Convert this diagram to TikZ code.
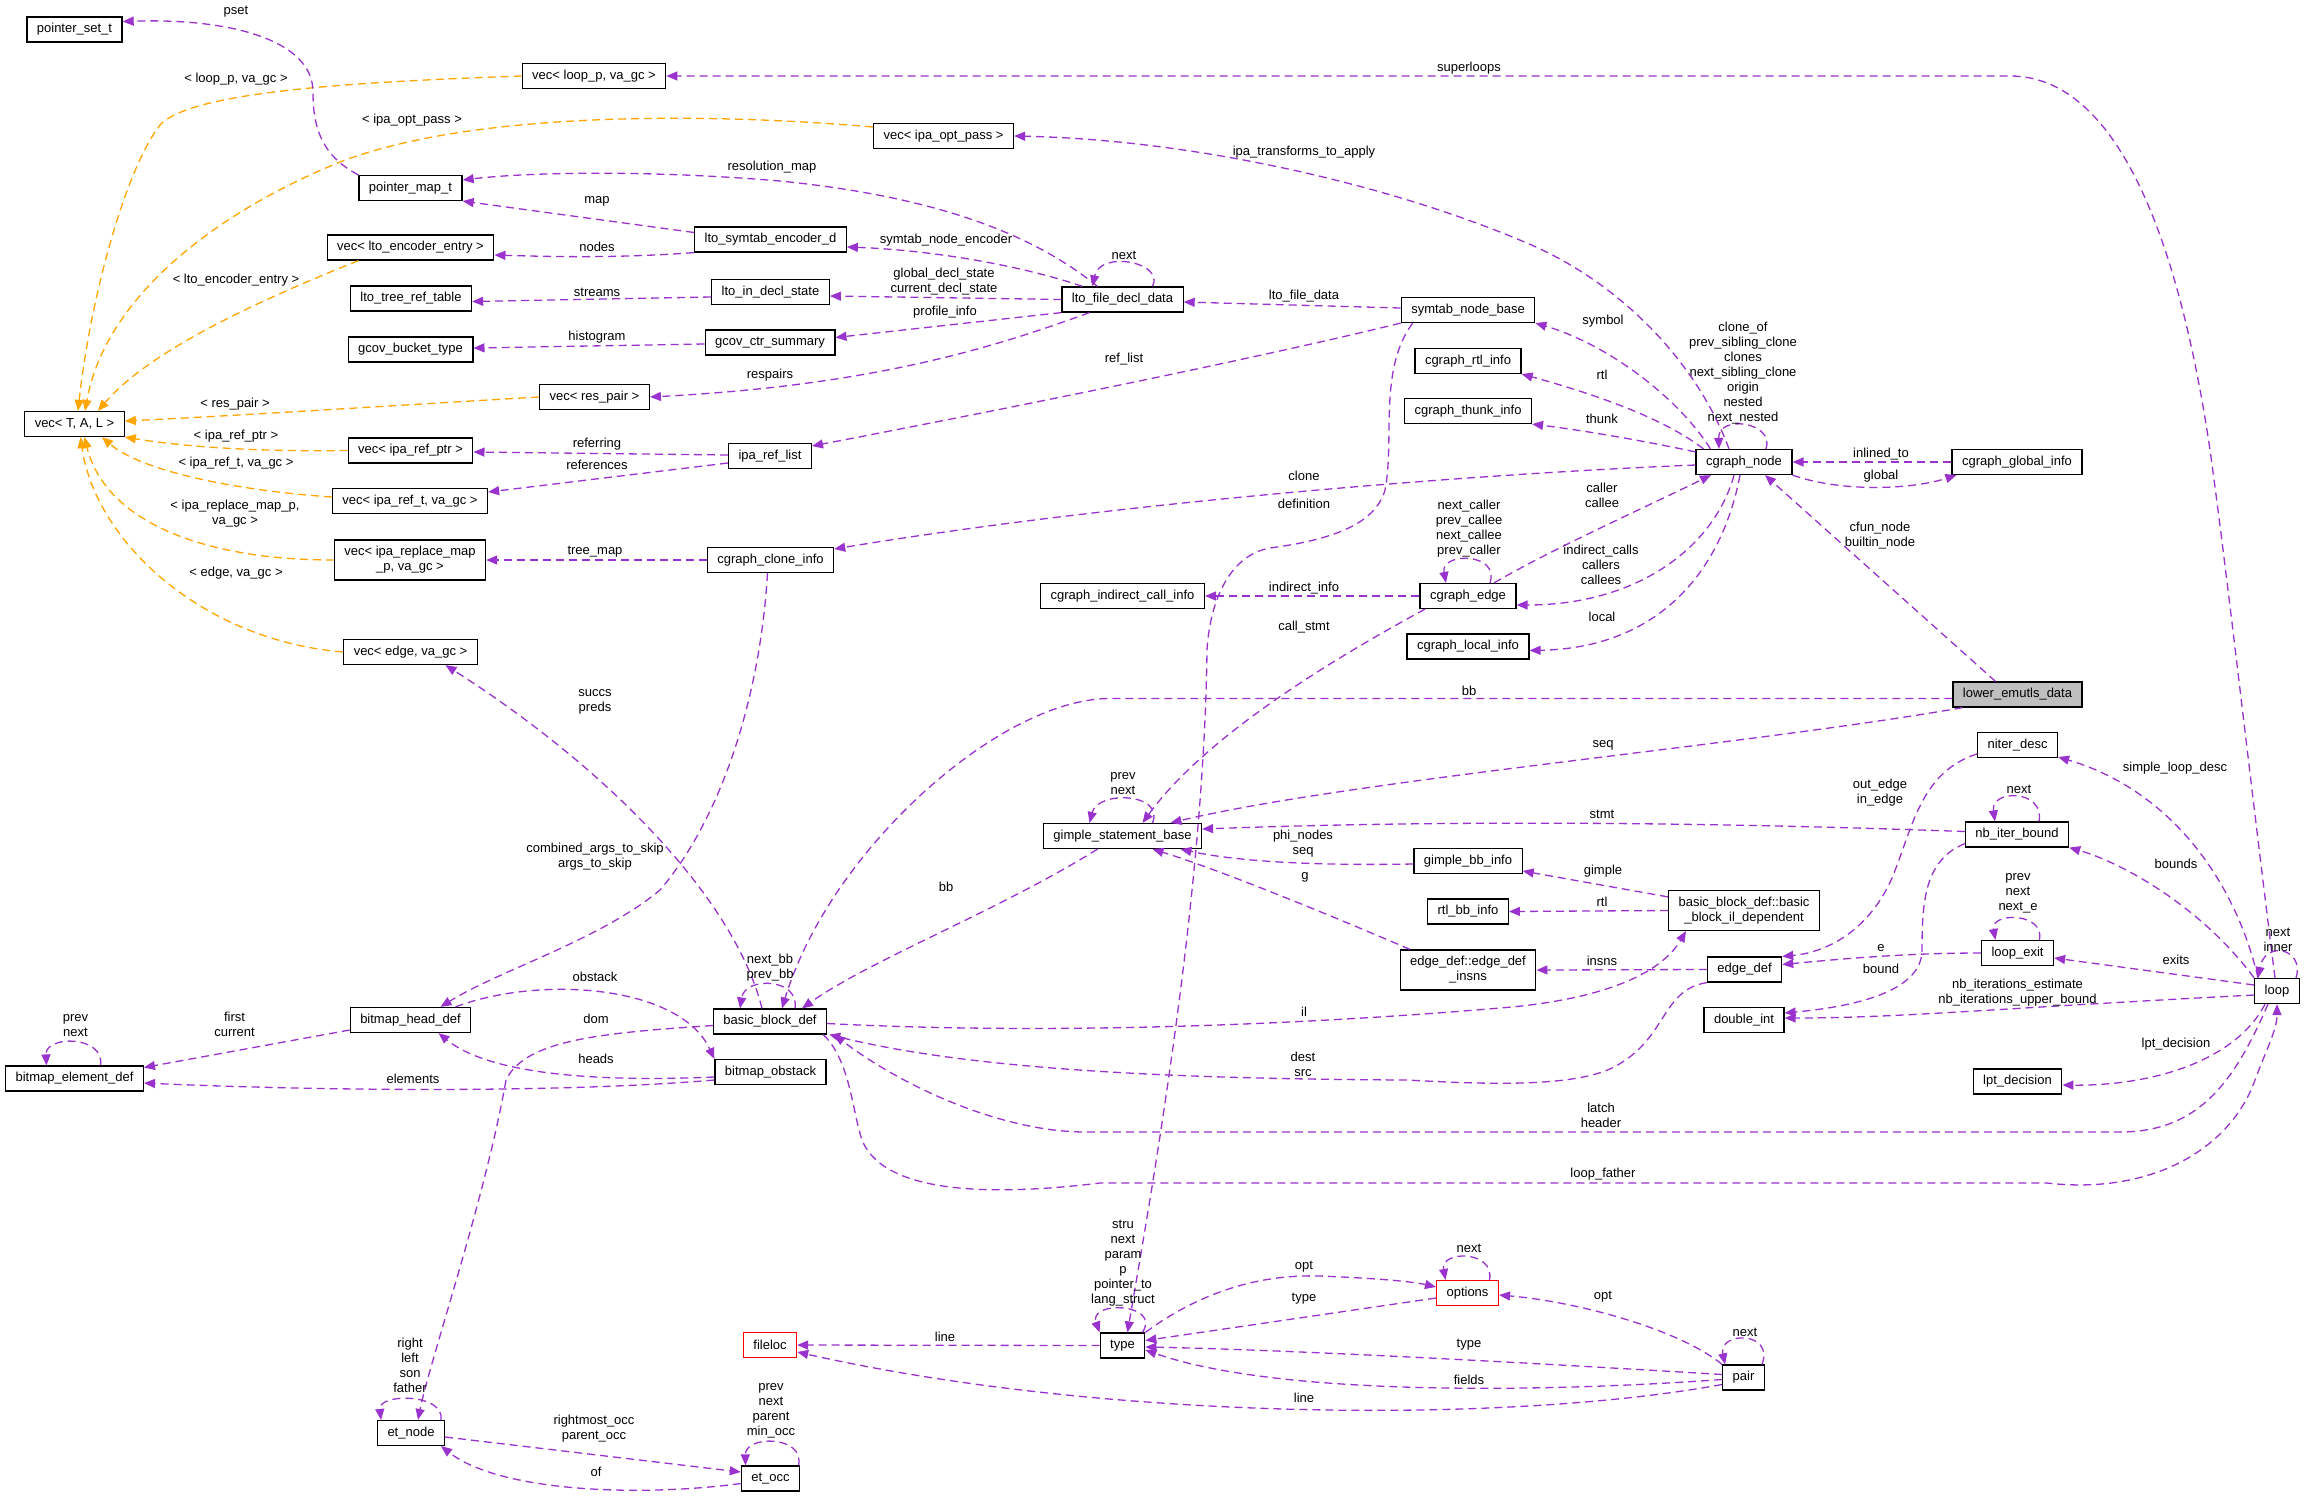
\documentclass[tikz,border=0pt]{standalone}
\usepackage{fontspec}
\setmainfont{Liberation Sans}
\usepackage{tikz}
\usetikzlibrary{arrows.meta}
\definecolor{edgepurple}{HTML}{9A32CD}
\definecolor{edgeorange}{HTML}{FFA500}
\definecolor{focusgray}{HTML}{BFBFBF}

\begin{document}
\begin{tikzpicture}[
    x=1pt,y=-1pt,
    cls/.style={draw=black,line width=1.2pt,fill=white,minimum height=25pt,inner xsep=10pt,inner ysep=2pt,align=center,font=\fontsize{13}{15}\selectfont},
    twoline/.style={cls,minimum height=40pt},
    redcls/.style={cls,draw=red},
    mem/.style={draw=edgepurple,line width=1.3pt,dash pattern=on 8pt off 5pt,->},
    tpl/.style={mem,draw=edgeorange},
    lbl/.style={font=\fontsize{13}{15}\selectfont,align=center,inner sep=0pt},
    >={Triangle[length=11pt,width=9pt]},
]
    \useasboundingbox (0,0) rectangle (2307,1497);

    \node[cls] (pset) at (74.5,29.5) {pointer\_set\_t};
    \node[cls] (vecloop) at (594,76) {vec< loop\_p, va\_gc >};
    \node[cls] (vecipa) at (943.5,136) {vec< ipa\_opt\_pass >};
    \node[cls] (pmap) at (410.5,188) {pointer\_map\_t};
    \node[cls] (lsed) at (770.5,239.5) {lto\_symtab\_encoder\_d};
    \node[cls] (vecenc) at (410.5,247.5) {vec< lto\_encoder\_entry >};
    \node[cls] (ltrt) at (411,298.5) {lto\_tree\_ref\_table};
    \node[cls] (lids) at (770.5,292) {lto\_in\_decl\_state};
    \node[cls] (lfdd) at (1122.5,299.5) {lto\_file\_decl\_data};
    \node[cls] (snb) at (1468,310) {symtab\_node\_base};
    \node[cls] (gbt) at (410.5,349.5) {gcov\_bucket\_type};
    \node[cls] (gcs) at (770,342.5) {gcov\_ctr\_summary};
    \node[cls] (crtl) at (1468,361) {cgraph\_rtl\_info};
    \node[cls] (vecres) at (594.5,397) {vec< res\_pair >};
    \node[cls] (cthk) at (1468,411) {cgraph\_thunk\_info};
    \node[cls] (vectal) at (74.5,424) {vec< T, A, L >};
    \node[cls] (vecrptr) at (410.5,450.5) {vec< ipa\_ref\_ptr >};
    \node[cls] (irl) at (770,456) {ipa\_ref\_list};
    \node[cls] (cgn) at (1744,462) {cgraph\_node};
    \node[cls] (cgi) at (2017,462) {cgraph\_global\_info};
    \node[cls] (vecrt) at (410,501) {vec< ipa\_ref\_t, va\_gc >};
    \node[twoline] (vecrmap) at (410,560) {vec< ipa\_replace\_map\\\_p, va\_gc >};
    \node[cls] (cci) at (770.5,560) {cgraph\_clone\_info};
    \node[cls] (cici) at (1122.5,596) {cgraph\_indirect\_call\_info};
    \node[cls] (cge) at (1468,596) {cgraph\_edge};
    \node[cls] (cli) at (1468,646.5) {cgraph\_local\_info};
    \node[cls] (vecedge) at (410.5,652) {vec< edge, va\_gc >};
    \node[cls,fill=focusgray] (led) at (2017.5,694.5) {lower\_emutls\_data};
    \node[cls] (nd) at (2017.5,745) {niter\_desc};
    \node[cls] (gsb) at (1122.5,836) {gimple\_statement\_base};
    \node[cls] (nib) at (2017,834.5) {nb\_iter\_bound};
    \node[cls] (gbi) at (1468,861) {gimple\_bb\_info};
    \node[twoline] (bbil) at (1744,910.5) {basic\_block\_def::basic\\\_block\_il\_dependent};
    \node[cls] (rbi) at (1468,911.5) {rtl\_bb\_info};
    \node[twoline] (edi) at (1468,970) {edge\_def::edge\_def\\\_insns};
    \node[cls] (lexit) at (2017.5,953) {loop\_exit};
    \node[cls] (edef) at (1744.5,969.5) {edge\_def};
    \node[cls] (loop) at (2277,991) {loop};
    \node[cls] (bhd) at (410.5,1020) {bitmap\_head\_def};
    \node[cls] (bbd) at (770,1021.5) {basic\_block\_def};
    \node[cls] (dint) at (1744,1020) {double\_int};
    \node[cls] (bed) at (74.5,1078.5) {bitmap\_element\_def};
    \node[cls] (bobs) at (770.5,1072) {bitmap\_obstack};
    \node[cls] (lptd) at (2017.5,1081.5) {lpt\_decision};
    \node[redcls] (opts) at (1467.5,1293) {options};
    \node[redcls] (floc) at (770,1345) {fileloc};
    \node[cls] (type) at (1122.5,1345.5) {type};
    \node[cls] (pair) at (1743.5,1377.5) {pair};
    \node[cls] (etn) at (411,1433) {et\_node};
    \node[cls] (eto) at (770.5,1478.5) {et\_occ};

    \draw[tpl] (vecloop.west) .. controls (350,82) and (190,92) .. (160,125) .. controls (125,170) and (90,300) .. ([xshift=3.5pt]vectal.north) node[lbl] at (236,79) {< loop\_p, va\_gc >};
    \draw[tpl] ([yshift=9pt]vecipa.west) .. controls (700,112) and (470,112) .. (340,162) .. controls (210,215) and (105,300) .. ([xshift=10.5pt]vectal.north) node[lbl] at (412,120) {< ipa\_opt\_pass >};
    \draw[tpl] ([xshift=-52pt]vecenc.south) .. controls (260,300) and (150,350) .. ([xshift=23.5pt]vectal.north) node[lbl] at (236,280) {< lto\_encoder\_entry >};
    \draw[tpl] (vecres.west) .. controls (400,405) and (250,415) .. ([yshift=3pt]vectal.east) node[lbl] at (235,404) {< res\_pair >};
    \draw[tpl] (vecrptr.west) .. controls (250,452) and (180,446) .. (vectal.south east) node[lbl] at (236,436) {< ipa\_ref\_ptr >};
    \draw[tpl] ([yshift=4pt]vecrt.west) .. controls (230,490) and (140,470) .. ([xshift=27.5pt]vectal.south) node[lbl] at (236,463) {< ipa\_ref\_t, va\_gc >};
    \draw[tpl] (vecrmap.west) .. controls (200,560) and (105,520) .. ([xshift=10pt]vectal.south) node[lbl] at (235,514) {< ipa\_replace\_map\_p,\\va\_gc >};
    \draw[tpl] (vecedge.west) .. controls (200,640) and (95,540) .. ([xshift=6pt]vectal.south) node[lbl] at (236,573) {< edge, va\_gc >};

    \draw[mem] (pmap.north west) .. controls (320,155) and (313,125) .. (313,92) .. controls (313,40) and (230,18) .. ([yshift=8pt]pset.east) node[lbl] at (236,12) {pset};
    \draw[mem] ([xshift=-25pt]lfdd.north) .. controls (1040,240) and (950,198) .. (780,181) .. controls (650,170) and (530,172) .. ([yshift=8pt]pmap.east) node[lbl] at (772,167) {resolution\_map};
    \draw[mem] ([yshift=7pt]lsed.west) -- (pmap.south east) node[lbl] at (597,201) {map};
    \draw[mem] (lsed.south west) .. controls (620,258) and (560,257) .. ([yshift=-7.5pt]vecenc.east) node[lbl] at (597,247) {nodes};
    \draw[mem] ([xshift=-40pt]lfdd.north) .. controls (1020,265) and (930,250) .. ([yshift=-7.5pt]lsed.east) node[lbl] at (946,240) {symtab\_node\_encoder};
    \draw[mem] ([xshift=30pt]lfdd.north) .. controls (1165,262) and (1100,250) .. ([xshift=-30pt]lfdd.north) node[lbl] at (1124,255) {next};
    \draw[mem] ([yshift=-5pt]lids.west) -- ([yshift=-3pt]ltrt.east) node[lbl] at (597,292) {streams};
    \draw[mem] (lfdd.west) -- ([yshift=-4pt]lids.east) node[lbl] at (944,282) {global\_decl\_state\\current\_decl\_state};
    \draw[mem] ([yshift=-1.5pt]gcs.west) -- ([yshift=1.5pt]gbt.east) node[lbl] at (597,337) {histogram};
    \draw[mem] (lfdd.south west) -- ([yshift=5pt]gcs.east) node[lbl] at (945,312) {profile\_info};
    \draw[mem] ([xshift=-33pt]lfdd.south) .. controls (1000,345) and (880,385) .. (vecres.east) node[lbl] at (770,375) {respairs};
    \draw[mem] ([yshift=2pt]snb.west) -- ([yshift=-2.5pt]lfdd.east) node[lbl] at (1304,296) {lto\_file\_data};
    \draw[mem] (snb.south west) .. controls (1250,360) and (1000,410) .. ([yshift=10pt]irl.east) node[lbl] at (1124,359) {ref\_list};
    \draw[mem] ([yshift=1pt]irl.west) -- ([yshift=-1.5pt]vecrptr.east) node[lbl] at (597,444) {referring};
    \draw[mem] ([yshift=-7pt]irl.west) -- ([yshift=9pt]vecrt.east) node[lbl] at (597,465) {references};
    \draw[mem] ([xshift=12pt]snb.south west) .. controls (1378,370) and (1395,440) .. (1385,490) .. controls (1375,525) and (1330,540) .. (1270,548) .. controls (1230,555) and (1210,600) .. (1207,650) .. controls (1204,900) and (1150,1200) .. ([xshift=5pt]type.north) node[lbl] at (1304,504) {definition};
    \draw[mem] (cci.west) -- (vecrmap.east) node[lbl] at (595,552) {tree\_map};
    \draw[mem] ([yshift=-3pt]cgn.west) .. controls (1450,475) and (1100,505) .. ([yshift=11pt]cci.east) node[lbl] at (1304,476) {clone};

    \draw[mem] ([xshift=15pt]cgn.north west) .. controls (1680,400) and (1610,345) .. (snb.south east) node[lbl] at (1603,321) {symbol};
    \draw[mem] ([xshift=8pt]cgn.north west) .. controls (1660,415) and (1580,390) .. (crtl.south east) node[lbl] at (1602,375) {rtl};
    \draw[mem] ([yshift=-3pt]cgn.north west) .. controls (1640,440) and (1580,430) .. (cthk.south east) node[lbl] at (1602,419) {thunk};
    \draw[mem] ([xshift=22pt]cgn.north) .. controls (1775,422) and (1718,414) .. ([xshift=-25pt]cgn.north) node[lbl] at (1743,373) {clone\_of\\prev\_sibling\_clone\\clones\\next\_sibling\_clone\\origin\\nested\\next\_nested};
    \draw[mem] ([xshift=-15pt]cgn.north) .. controls (1700,370) and (1630,290) .. (1536,247) .. controls (1400,187) and (1200,140) .. (vecipa.east) node[lbl] at (1304,152) {ipa\_transforms\_to\_apply};
    \draw[mem] ([xshift=-2pt]loop.north) .. controls (2250,780) and (2228,580) .. (2210,450) .. controls (2185,280) and (2130,76) .. (2010,76) -- (vecloop.east) node[lbl] at (1469,68) {superloops};
    \draw[mem] (cgi.west) -- (cgn.east) node[lbl] at (1881,454) {inlined\_to};
    \draw[mem] (cgn.south east) .. controls (1840,492) and (1910,490) .. ([xshift=5pt]cgi.south west) node[lbl] at (1881,476) {global};
    \draw[mem] ([xshift=26pt]cge.north) .. controls (1550,550) and (1650,505) .. ([xshift=-33pt]cgn.south) node[lbl] at (1602,495.5) {caller\\callee};
    \draw[mem] ([xshift=-10pt]cgn.south) .. controls (1715,545) and (1640,605) .. ([yshift=-9pt]cge.east) node[lbl] at (1601,565) {indirect\_calls\\callers\\callees};
    \draw[mem] ([xshift=-4pt]cgn.south) .. controls (1722,570) and (1660,648) .. ([yshift=-4pt]cli.east) node[lbl] at (1602,617) {local};
    \draw[mem] ([xshift=-22pt]led.north) -- ([xshift=21pt]cgn.south) node[lbl] at (1880,535.5) {cfun\_node\\builtin\_node};
    \draw[mem] (cge.west) -- (cici.east) node[lbl] at (1304,588) {indirect\_info};
    \draw[mem] ([xshift=22pt]cge.north) .. controls (1500,552) and (1440,552) .. ([xshift=-22pt]cge.north) node[lbl] at (1469,528.5) {next\_caller\\prev\_callee\\next\_callee\\prev\_caller};
    \draw[mem] ([xshift=-43pt]cge.south) .. controls (1350,650) and (1210,730) .. ([xshift=20pt]gsb.north) node[lbl] at (1304,627) {call\_stmt};

    \draw[mem] ([yshift=-4pt]led.west) -- (1110,698.5) .. controls (1000,698.5) and (830,850) .. ([xshift=12pt]bbd.north) node[lbl] at (1469,691) {bb};
    \draw[mem] ([xshift=-55pt]led.south) .. controls (1750,745) and (1350,780) .. ([xshift=48pt]gsb.north) node[lbl] at (1603,745) {seq};
    \draw[mem] ([xshift=30pt]gsb.north) .. controls (1165,793) and (1098,790) .. ([xshift=-33pt]gsb.north) node[lbl] at (1123,783.5) {prev\\next};
    \draw[mem] ([yshift=3pt]nib.west) .. controls (1700,822) and (1450,820) .. ([yshift=7pt]gsb.east) node[lbl] at (1602,814) {stmt};
    \draw[mem] ([yshift=-3pt]gbi.west) .. controls (1300,866) and (1230,860) .. ([xshift=58pt]gsb.south) node[lbl] at (1303,843.5) {phi\_nodes\\seq};
    \draw[mem] ([xshift=-58pt]edi.north) .. controls (1330,915) and (1220,870) .. ([xshift=30pt]gsb.south) node[lbl] at (1305,877) {g};
    \draw[mem] ([xshift=-25pt]gsb.south) .. controls (1000,910) and (870,960) .. ([xshift=32pt]bbd.north) node[lbl] at (946,887) {bb};
    \draw[mem] ([yshift=-7pt]bbil.north west) -- ([yshift=-10pt]gbi.east) node[lbl] at (1603,871) {gimple};
    \draw[mem] (bbil.west) -- (rbi.east) node[lbl] at (1602,902) {rtl};
    \draw[mem] (edef.west) -- (edi.east) node[lbl] at (1602,961) {insns};

    \draw[mem] ([yshift=-9pt]nd.west) .. controls (1920,772) and (1912,830) .. (1892,878) .. controls (1870,928) and (1830,952) .. (edef.north east) node[lbl] at (1880,792.5) {out\_edge\\in\_edge};
    \draw[mem] ([xshift=-19pt]loop.north) .. controls (2235,880) and (2170,790) .. ([yshift=-12pt]nd.east) node[lbl] at (2175,768) {simple\_loop\_desc};
    \draw[mem] ([xshift=22pt]nib.north) .. controls (2045,789) and (1990,789) .. ([xshift=-22pt]nib.north) node[lbl] at (2019,789) {next};
    \draw[mem] (loop.north west) .. controls (2200,905) and (2120,862) .. (nib.south east) node[lbl] at (2176,864) {bounds};
    \draw[mem] ([xshift=22pt]lexit.north) .. controls (2045,912) and (1990,912) .. ([xshift=-22pt]lexit.north) node[lbl] at (2018,893) {prev\\next\\next\_e};
    \draw[mem] (lexit.west) .. controls (1900,953) and (1830,960) .. ([yshift=5pt]edef.east) node[lbl] at (1881,948) {e};
    \draw[mem] ([yshift=6pt]loop.west) -- ([yshift=-5pt]lexit.east) node[lbl] at (2176,960) {exits};
    \draw[mem] ([xshift=19pt]loop.north) .. controls (2305,948) and (2265,940) .. ([xshift=-19pt]loop.north) node[lbl] at (2278,939.5) {next\\inner};
    \draw[mem] ([yshift=-9pt]nib.west) .. controls (1925,860) and (1922,900) .. (1922,950) .. controls (1922,990) and (1860,1006) .. ([yshift=7pt]dint.east) node[lbl] at (1881,969) {bound};
    \draw[mem] ([yshift=-4pt]loop.west) .. controls (2000,1008) and (1900,1018) .. ([yshift=2pt]dint.east) node[lbl] at (2017.5,992.5) {nb\_iterations\_estimate\\nb\_iterations\_upper\_bound};
    \draw[mem] ([xshift=-12pt]loop.south) .. controls (2235,1062) and (2150,1086) .. ([yshift=-3.5pt]lptd.east) node[lbl] at (2176,1044) {lpt\_decision};

    \draw[mem] ([yshift=-2pt]bbd.east) .. controls (1050,1035) and (1300,1025) .. (1500,1008) .. controls (1600,1000) and (1660,975) .. ([xshift=-58pt]bbil.south) node[lbl] at (1304,1012) {il};
    \draw[mem] (edef.south west) .. controls (1660,990) and (1668,1040) .. (1612,1068) .. controls (1570,1088) and (1480,1084) .. (1407,1080) .. controls (1200,1079) and (980,1072) .. ([xshift=2pt]bbd.south east) node[lbl] at (1303,1064.5) {dest\\src};
    \draw[mem] ([xshift=-9pt]loop.south) .. controls (2235,1080) and (2200,1132) .. (2120,1132) -- (1086,1132) .. controls (1000,1132) and (900,1085) .. ([xshift=7pt]bbd.south east) node[lbl] at (1601,1115.5) {latch\\header};
    \draw[mem] ([xshift=-4pt]bbd.south east) .. controls (850,1060) and (852,1110) .. (862,1140) .. controls (880,1185) and (960,1200) .. (1100,1183) -- (2047,1183) .. controls (2150,1195) and (2230,1150) .. (2255,1080) .. controls (2266,1050) and (2277,1030) .. (loop.south) node[lbl] at (1603,1174) {loop\_father};
    \draw[mem] ([xshift=-8pt]bbd.north) .. controls (735,900) and (610,770) .. ([xshift=35pt]vecedge.south) node[lbl] at (595,702) {succs\\preds};
    \draw[mem] ([xshift=-3pt]cci.south) .. controls (760,700) and (720,820) .. (660,890) .. controls (600,940) and (500,970) .. ([xshift=30pt]bhd.north) node[lbl] at (595,856.5) {combined\_args\_to\_skip\\args\_to\_skip};
    \draw[mem] ([xshift=25pt]bbd.north) .. controls (800,978) and (745,976) .. ([xshift=-30pt]bbd.north) node[lbl] at (770,968) {next\_bb\\prev\_bb};

    \draw[mem] ([xshift=45pt]bhd.north) .. controls (540,975) and (680,985) .. (bobs.north west) node[lbl] at (595,977) {obstack};
    \draw[mem] ([yshift=-10pt]bhd.west) -- ([yshift=11pt]bed.east) node[lbl] at (234.5,1024) {first\\current};
    \draw[mem] ([xshift=26pt]bed.north) .. controls (105,1035) and (45,1035) .. ([xshift=-28pt]bed.north) node[lbl] at (75.5,1026) {prev\\next};
    \draw[mem] ([yshift=-4pt]bbd.west) .. controls (600,1033) and (525,1040) .. (506,1080) .. controls (485,1200) and (430,1360) .. ([xshift=7pt]etn.north) node[lbl] at (596,1019) {dom};
    \draw[mem] ([yshift=-5pt]bobs.west) .. controls (600,1082) and (490,1075) .. ([xshift=28pt]bhd.south) node[lbl] at (596,1059) {heads};
    \draw[mem] ([yshift=-8pt]bobs.west) .. controls (550,1094) and (300,1090) .. ([yshift=-4.5pt]bed.east) node[lbl] at (413,1079) {elements};
    \draw[mem] ([xshift=30pt]etn.north) .. controls (445,1393) and (378,1393) .. ([xshift=-30pt]etn.north) node[lbl] at (410,1365) {right\\left\\son\\father};
    \draw[mem] ([yshift=-4pt]etn.east) -- ([yshift=6.5pt]eto.west) node[lbl] at (594,1428.5) {rightmost\_occ\\parent\_occ};
    \draw[mem] ([yshift=-5pt]eto.west) .. controls (640,1497) and (500,1492) .. ([xshift=30pt]etn.south) node[lbl] at (596,1472) {of};
    \draw[mem] ([xshift=28pt]eto.north) .. controls (805,1435) and (745,1435) .. ([xshift=-25pt]eto.north) node[lbl] at (771,1410.5) {prev\\next\\parent\\min\_occ};

    \draw[mem] (type.west) -- (floc.east) node[lbl] at (945,1337) {line};
    \draw[mem] ([yshift=-7pt]pair.west) .. controls (1500,1425) and (1100,1420) .. ([yshift=-7pt]floc.east) node[lbl] at (1304,1398) {line};
    \draw[mem] ([xshift=-3pt]type.north east) .. controls (1162,1303) and (1088,1300) .. (type.north west) node[lbl] at (1123,1263.5) {stru\\next\\param\\p\\pointer\_to\\lang\_struct};
    \draw[mem] (type.north east) .. controls (1200,1292) and (1260,1274) .. (1320,1276) .. controls (1370,1278) and (1410,1281) .. ([yshift=6pt]opts.west) node[lbl] at (1304,1267) {opt};
    \draw[mem] ([yshift=-5pt]opts.west) -- ([yshift=5pt]type.east) node[lbl] at (1304,1299) {type};
    \draw[mem] ([xshift=22pt]opts.north) .. controls (1495,1250) and (1440,1250) .. ([xshift=-22pt]opts.north) node[lbl] at (1469,1248) {next};
    \draw[mem] (pair.north west) .. controls (1680,1330) and (1580,1302) .. ([yshift=-2pt]opts.east) node[lbl] at (1603,1297) {opt};
    \draw[mem] ([yshift=3pt]pair.west) .. controls (1550,1364) and (1300,1350) .. ([yshift=-1.5pt]type.east) node[lbl] at (1469,1345) {type};
    \draw[mem] ([yshift=-2pt]pair.west) .. controls (1550,1392) and (1280,1397) .. ([yshift=-4.5pt]type.east) node[lbl] at (1469,1380) {fields};
    \draw[mem] ([xshift=-3pt]pair.north east) .. controls (1775,1331) and (1718,1331) .. ([xshift=3pt]pair.north west) node[lbl] at (1745,1332) {next};
\end{tikzpicture}
\end{document}
